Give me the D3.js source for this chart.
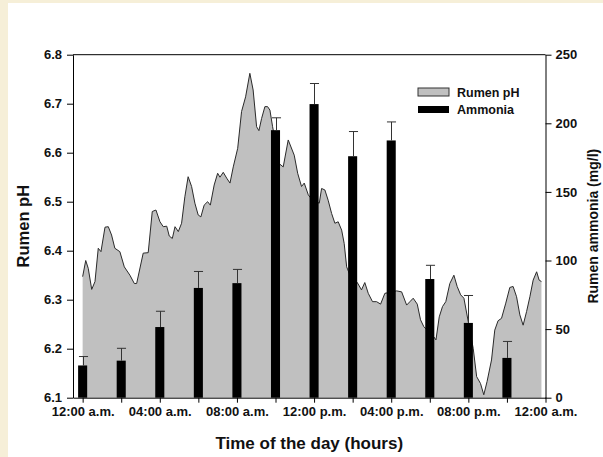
<!DOCTYPE html>
<html>
<head>
<meta charset="utf-8">
<script src="https://cdn.jsdelivr.net/npm/d3@7"></script>
<style>
  html, body { margin: 0; padding: 0; background: #f6efd8; }
  #chart { position: absolute; left: 8px; top: 3px; width: 595px; height: 454px; background: #fff; }
  svg { position: absolute; left: 0; top: 0; }
  text { font-family: "Liberation Sans", Arial, sans-serif; fill: #111; }
</style>
</head>
<body>
<div id="chart"></div>
<script>
// Rumen pH trace (hours after midnight, pH)
const phHours = [0, 0.16, 0.29, 0.47, 0.64, 0.81, 0.95, 1.16, 1.33, 1.5, 1.67, 1.93, 2.16, 2.45, 2.68, 2.8,
  3.14, 3.4, 3.61, 3.8, 4.01, 4.18, 4.36, 4.49, 4.65, 4.79, 4.96, 5.13, 5.3, 5.47, 5.65, 5.82, 5.99,
  6.13, 6.3, 6.48, 6.62, 6.82, 7.0, 7.12, 7.29, 7.47, 7.64, 7.81, 8.04, 8.24, 8.45, 8.67, 8.84, 9.02,
  9.14, 9.28, 9.45, 9.59, 9.71, 9.85, 10.1, 10.18, 10.4, 10.66, 10.97, 11.15, 11.35, 11.49, 11.7, 11.92,
  12.27, 12.39, 12.56, 12.73, 12.91, 13.08, 13.25, 13.43, 13.56, 13.69, 13.82, 14.24, 14.46, 14.63, 14.81,
  15.03, 15.24, 15.45, 15.67, 16.28, 16.54, 16.8, 16.97, 17.14, 17.35, 17.52, 17.69, 18.21, 18.32, 18.49,
  18.66, 18.83, 19.04, 19.25, 19.42, 19.6, 19.77, 20.25, 20.43, 20.63, 20.8, 20.97, 21.2, 21.37, 21.54,
  21.72, 21.94, 22.15, 22.32, 22.5, 22.67, 22.84, 23.02, 23.19, 23.36, 23.54, 23.67, 23.79];
const phValues = [6.347, 6.38, 6.364, 6.321, 6.337, 6.405, 6.398, 6.448, 6.449, 6.432, 6.405, 6.398, 6.367, 6.35, 6.333, 6.333,
  6.395, 6.396, 6.48, 6.483, 6.459, 6.449, 6.45, 6.43, 6.425, 6.449, 6.439, 6.456, 6.51, 6.551, 6.531, 6.497, 6.473,
  6.469, 6.493, 6.5, 6.493, 6.534, 6.558, 6.55, 6.56, 6.548, 6.538, 6.571, 6.609, 6.684, 6.714, 6.762, 6.728, 6.653,
  6.645, 6.67, 6.694, 6.694, 6.687, 6.653, 6.6, 6.578, 6.571, 6.626, 6.595, 6.558, 6.531, 6.538, 6.514, 6.503,
  6.497, 6.527, 6.524, 6.503, 6.476, 6.456, 6.459, 6.442, 6.415, 6.367, 6.354, 6.335, 6.32, 6.335, 6.313,
  6.296, 6.296, 6.291, 6.313, 6.318, 6.316, 6.289, 6.296, 6.303, 6.291, 6.259, 6.245, 6.224, 6.218, 6.265,
  6.286, 6.296, 6.333, 6.35, 6.327, 6.31, 6.303, 6.201, 6.143, 6.129, 6.106, 6.133, 6.177, 6.238, 6.257,
  6.262, 6.293, 6.325, 6.327, 6.306, 6.269, 6.248, 6.276, 6.306, 6.34, 6.357, 6.34, 6.337];

// Ammonia bars every 2 hours (mg/l) with upper error
const barHours = [0, 2, 4, 6, 8, 10, 12, 14, 16, 18, 20, 22];
const ammonia = [23.5, 27, 51.5, 80, 83.5, 195, 214, 176, 187.5, 86.5, 54.5, 29];
const ammoniaErr = [6.5, 9, 11.5, 12, 10, 9, 15, 18, 13.5, 10, 20, 12];

// axis ticks
const xTicks = [0, 2, 4, 6, 8, 10, 12, 14, 16, 18, 20, 22, 24];
const xTickLabels = ['12:00 a.m.', '04:00 a.m.', '08:00 a.m.', '12:00 p.m.', '04:00 p.m.', '08:00 p.m.', '12:00 a.m.'];
const phTicks = [6.1, 6.2, 6.3, 6.4, 6.5, 6.6, 6.7, 6.8];
const ammoniaTicks = [0, 50, 100, 150, 200, 250];
const seriesNames = ['Rumen pH', 'Ammonia'];

const W = 595, H = 454;
const svg = d3.select('#chart').append('svg').attr('width', W).attr('height', H)
  .append('g').attr('transform', 'translate(-8,-3)'); // work in page coordinates

const x = d3.scaleLinear().domain([-0.5, 24]).range([73, 545.5]);
const yL = d3.scaleLinear().domain([6.1, 6.8]).range([397.7, 54.7]);
const yR = d3.scaleLinear().domain([0, 250]).range([397.7, 54.7]);

const ph = phHours.map((h, i) => ({ h: h, v: phValues[i] }));

// pH area
svg.append('path')
  .datum(ph)
  .attr('fill', '#c0c0c0')
  .attr('d', d3.area().x(d => x(d.h)).y0(yL(6.1)).y1(d => yL(d.v)));

svg.append('path')
  .datum(ph)
  .attr('fill', 'none')
  .attr('stroke', '#2a2a2a')
  .attr('stroke-width', 1)
  .attr('d', d3.line().x(d => x(d.h)).y(d => yL(d.v)));

// ammonia bars
const bw = x(0.47) - x(0);
svg.selectAll('.bar')
  .data(barHours)
  .enter()
  .append('rect')
  .attr('class', 'bar')
  .attr('x', (d) => x(d) - bw / 2)
  .attr('y', (d, i) => yR(ammonia[i]))
  .attr('width', bw)
  .attr('height', (d, i) => yR(0) - yR(ammonia[i]))
  .attr('fill', '#000');

// error bars (upper only)
const err = svg.append('g').attr('stroke', '#333').attr('stroke-width', 1);
barHours.forEach(function (h, i) {
  const cx = Math.round(x(h)) + 0.5;
  const top = yR(ammonia[i] + ammoniaErr[i]);
  err.append('line').attr('x1', cx).attr('x2', cx).attr('y1', yR(ammonia[i])).attr('y2', top);
  err.append('line').attr('x1', cx - bw / 2).attr('x2', cx + bw / 2).attr('y1', top).attr('y2', top);
});

// axes
const xAxis = d3.axisBottom(x).tickValues(xTicks).tickSize(5).tickSizeOuter(0).tickPadding(4)
  .tickFormat((d) => (d % 4 === 0 ? xTickLabels[d / 4] : ''));
const gx = svg.append('g').attr('transform', `translate(0,${yL(6.1)})`).call(xAxis);

const gl = svg.append('g').attr('transform', `translate(${x(-0.5)},0)`)
  .call(d3.axisLeft(yL).tickValues(phTicks).tickSize(6).tickSizeOuter(0).tickPadding(5).tickFormat(d3.format('.1f')));

const gr = svg.append('g').attr('transform', `translate(${x(24)},0)`)
  .call(d3.axisRight(yR).tickValues(ammoniaTicks).tickSize(6).tickSizeOuter(0).tickPadding(4));

// top border
svg.append('line')
  .attr('x1', x(-0.5)).attr('x2', x(24))
  .attr('y1', yL(6.8)).attr('y2', yL(6.8))
  .attr('stroke', '#000');

[gx, gl, gr].forEach(function (g) {
  g.selectAll('text').style('font-size', '13px').style('font-weight', 'bold').attr('fill', '#111');
  g.selectAll('line, path').attr('stroke', '#000');
});

// axis titles
svg.append('text')
  .attr('transform', `translate(29,${(yL(6.1) + yL(6.8)) / 2}) rotate(-90)`)
  .attr('text-anchor', 'middle')
  .style('font-size', '16.5px').style('font-weight', 'bold')
  .text('Rumen pH');

svg.append('text')
  .attr('x', (x(-0.5) + x(24)) / 2).attr('y', 449)
  .attr('text-anchor', 'middle')
  .style('font-size', '17px').style('font-weight', 'bold')
  .text('Time of the day (hours)');

svg.append('text')
  .attr('transform', `translate(598,${(yL(6.1) + yL(6.8)) / 2}) rotate(-90)`)
  .attr('text-anchor', 'middle')
  .style('font-size', '14px').style('font-weight', 'bold')
  .text('Rumen ammonia (mg/l)');

// legend
const legend = svg.append('g').attr('transform', 'translate(418,88)');
legend.append('rect').attr('width', 31).attr('height', 8)
  .attr('fill', '#c0c0c0').attr('stroke', '#333');
legend.append('rect').attr('y', 18).attr('width', 31).attr('height', 7).attr('fill', '#000');
legend.append('text').attr('x', 39).attr('y', 9).style('font-size', '12.5px').style('font-weight', 'bold').text(seriesNames[0]);
legend.append('text').attr('x', 39).attr('y', 26).style('font-size', '12.5px').style('font-weight', 'bold').text(seriesNames[1]);
</script>
</body>
</html>
